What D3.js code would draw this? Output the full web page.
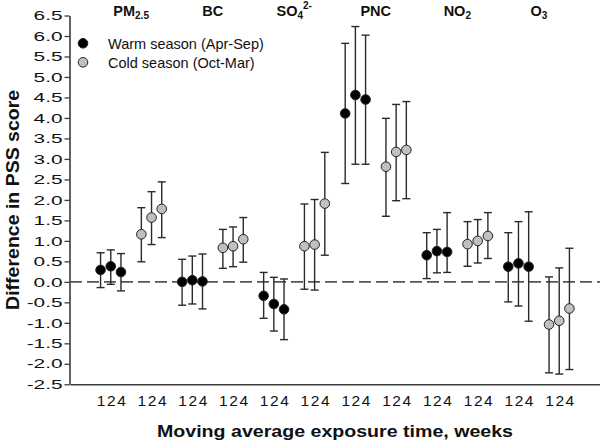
<!DOCTYPE html>
<html>
<head>
<meta charset="utf-8">
<script src="https://cdn.jsdelivr.net/npm/d3@7"></script>
<style>
  html, body { margin: 0; padding: 0; background: #fff; }
  svg { display: block; font-family: "Liberation Sans", Arial, Helvetica, sans-serif; }
</style>
</head>
<body>
<svg id="chart" width="600" height="443"></svg>
<script>
// ---- data ----
const pollutants = ["PM2.5", "BC", "SO42-", "PNC", "NO2", "O3"];
const seasons = ["Warm season (Apr-Sep)", "Cold season (Oct-Mar)"];
const weeks = [1, 2, 4];

const warmEst  = [[0.29, 0.38, 0.24], [0.00, 0.04, 0.01], [-0.34, -0.54, -0.67], [4.11, 4.56, 4.45], [0.65, 0.75, 0.73], [0.37, 0.45, 0.37]];
const warmLow  = [[-0.14, -0.06, -0.22], [-0.57, -0.54, -0.66], [-0.89, -1.20, -1.41], [2.40, 2.87, 2.87], [0.08, 0.22, 0.23], [-0.49, -0.59, -0.96]];
const warmHigh = [[0.71, 0.78, 0.69], [0.55, 0.63, 0.68], [0.23, 0.11, 0.07], [5.82, 6.23, 6.02], [1.20, 1.28, 1.69], [1.20, 1.47, 1.71]];

const coldEst  = [[1.16, 1.57, 1.78], [0.83, 0.87, 1.04], [0.87, 0.91, 1.91], [2.81, 3.17, 3.22], [0.92, 1.00, 1.12], [-1.04, -0.95, -0.65]];
const coldLow  = [[0.49, 0.91, 1.08], [0.33, 0.37, 0.48], [-0.18, -0.20, 0.65], [1.60, 1.98, 2.03], [0.38, 0.46, 0.57], [-2.22, -2.25, -2.14]];
const coldHigh = [[1.81, 2.20, 2.44], [1.28, 1.34, 1.57], [1.90, 2.01, 3.16], [3.99, 4.33, 4.40], [1.47, 1.52, 1.69], [0.12, 0.34, 0.82]];

const yTicks = d3.range(-2.5, 6.51, 0.5);

// ---- build flat records ----
const records = [];
pollutants.forEach((p, pi) => {
  [[warmEst, warmLow, warmHigh], [coldEst, coldLow, coldHigh]].forEach((arr, si) => {
    weeks.forEach((w, wi) => {
      records.push({
        pollutant: p, season: si, week: w,
        pos: pi * 2 + si + 1 + (wi - 1) * 0.25,
        est: arr[0][pi][wi], low: arr[1][pi][wi], high: arr[2][pi][wi]
      });
    });
  });
});

const svg = d3.select("#chart");
const x = d3.scaleLinear().domain([0, 13]).range([70, 600]);
const y = d3.scaleLinear().domain([-2.5, 6.5]).range([384.3, 15.5]);
const colors = ["#000000", "#c0c0c0"];
const axisColor = "#3a3a3a";

// zero reference line
svg.append("line")
  .attr("x1", x(0)).attr("x2", x(13))
  .attr("y1", y(0)).attr("y2", y(0))
  .attr("stroke", "#555").attr("stroke-width", 1.6)
  .attr("stroke-dasharray", "12,5");

// y axis
const yAxis = svg.append("g")
  .attr("transform", `translate(${x(0) - 0.5},0)`)
  .call(d3.axisLeft(y).tickValues(yTicks).tickFormat(d => d.toFixed(1)).tickSize(5).tickSizeOuter(0).tickPadding(2));
yAxis.select(".domain").attr("stroke", axisColor).attr("stroke-width", 1.6);
yAxis.selectAll(".tick line").attr("stroke", axisColor).attr("stroke-width", 1.3);
yAxis.selectAll(".tick text")
  .attr("font-size", 13).attr("fill", "#111")
  .attr("font-family", "Liberation Sans, Arial, sans-serif")
  .each(function () {
    const L = this.getComputedTextLength();
    d3.select(this).attr("textLength", L * 1.6).attr("lengthAdjust", "spacingAndGlyphs");
  });

// x axis
const xAxis = svg.append("g")
  .attr("transform", `translate(0,${y(-2.5)})`)
  .call(d3.axisBottom(x).tickValues(records.map(r => r.pos))
    .tickFormat((d, i) => records[i].week).tickSize(0).tickPadding(10.5));
xAxis.select(".domain").attr("stroke", axisColor).attr("stroke-width", 1.6);
xAxis.selectAll(".tick text").attr("font-size", 15.5).attr("fill", "#111")
  .attr("font-family", "Liberation Sans, Arial, sans-serif");

// error bars
const bars = svg.append("g").selectAll("g").data(records).join("g");
bars.append("line")
  .attr("x1", d => x(d.pos)).attr("x2", d => x(d.pos))
  .attr("y1", d => y(d.low)).attr("y2", d => y(d.high))
  .attr("stroke", "#2a2a2a").attr("stroke-width", 1.4);
bars.append("line")
  .attr("x1", d => x(d.pos) - 4).attr("x2", d => x(d.pos) + 4)
  .attr("y1", d => y(d.high)).attr("y2", d => y(d.high))
  .attr("stroke", "#2a2a2a").attr("stroke-width", 1.4);
bars.append("line")
  .attr("x1", d => x(d.pos) - 4).attr("x2", d => x(d.pos) + 4)
  .attr("y1", d => y(d.low)).attr("y2", d => y(d.low))
  .attr("stroke", "#2a2a2a").attr("stroke-width", 1.4);

// points
svg.append("g").selectAll("circle").data(records).join("circle")
  .attr("cx", d => x(d.pos)).attr("cy", d => y(d.est)).attr("r", 4.8)
  .attr("fill", d => colors[d.season])
  .attr("stroke", "#222").attr("stroke-width", 1);

// pollutant labels
const labelG = svg.append("g").attr("font-weight", "bold").attr("font-size", 14.5).attr("fill", "#111");
pollutants.forEach((p, pi) => {
  const t = labelG.append("text")
    .attr("x", x(pi * 2 + 1.5)).attr("y", 16)
    .attr("text-anchor", "middle");
  if (p === "PM2.5") {
    t.append("tspan").text("PM");
    t.append("tspan").attr("font-size", 10).attr("dy", 3).text("2.5");
  } else if (p === "SO42-") {
    t.append("tspan").text("SO");
    t.append("tspan").attr("font-size", 10).attr("dy", 3).text("4");
    t.append("tspan").attr("font-size", 10).attr("dy", -10).text("2-");
  } else if (p === "NO2") {
    t.append("tspan").text("NO");
    t.append("tspan").attr("font-size", 10).attr("dy", 3).text("2");
  } else if (p === "O3") {
    t.append("tspan").text("O");
    t.append("tspan").attr("font-size", 10).attr("dy", 3).text("3");
  } else {
    t.text(p);
  }
});

// legend
const legend = svg.append("g").selectAll("g").data(seasons).join("g")
  .attr("transform", (d, i) => `translate(83,${43.3 + i * 19})`);
legend.append("circle").attr("r", 4.8)
  .attr("fill", (d, i) => colors[i]).attr("stroke", "#222").attr("stroke-width", 1);
legend.append("text").attr("x", 25).attr("y", 5.5)
  .attr("font-size", 14.5).attr("fill", "#111").text(d => d);

// axis titles
svg.append("text")
  .attr("transform", `translate(19,${(y(-2.5) + y(6.5)) / 2}) rotate(-90)`)
  .attr("text-anchor", "middle").attr("font-weight", "bold").attr("font-size", 18.5)
  .attr("fill", "#111")
  .attr("textLength", 220).attr("lengthAdjust", "spacingAndGlyphs")
  .text("Difference in PSS score");

svg.append("text")
  .attr("x", (x(0) + x(13)) / 2).attr("y", 437)
  .attr("text-anchor", "middle").attr("font-weight", "bold").attr("font-size", 16.5)
  .attr("fill", "#111")
  .attr("textLength", 356).attr("lengthAdjust", "spacingAndGlyphs")
  .text("Moving average exposure time, weeks");
</script>
</body>
</html>
